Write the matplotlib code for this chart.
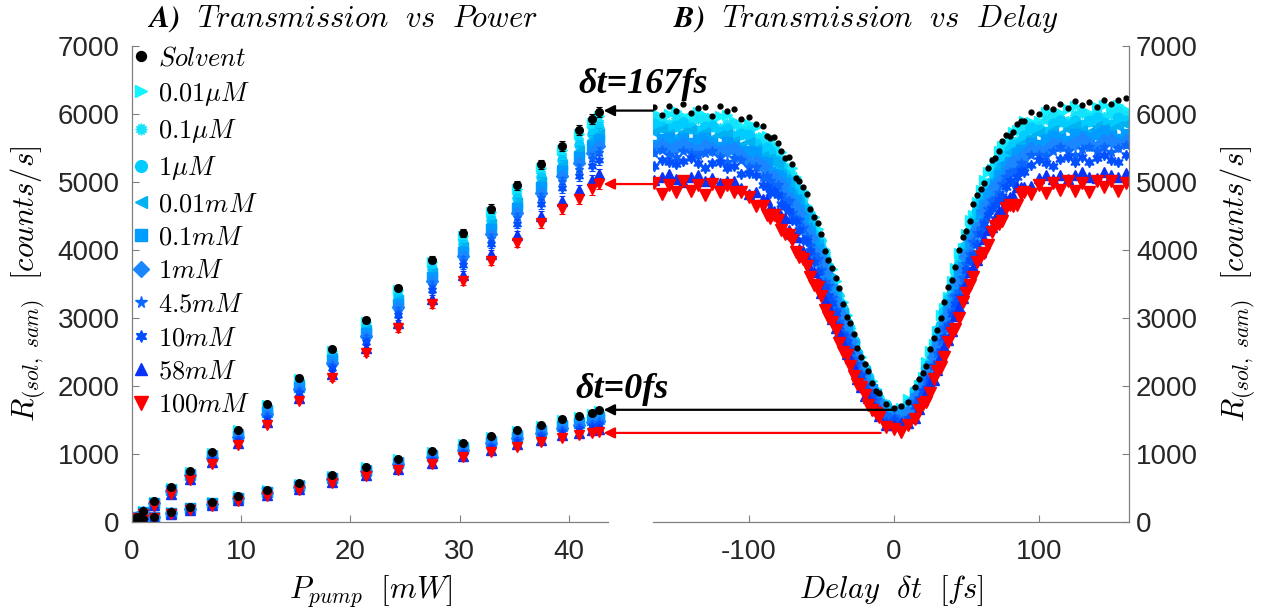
import matplotlib
matplotlib.use('Agg')
import matplotlib.pyplot as plt

# ---- Panel A: transmission vs pump power (two delays) ----
power_mw = [0.2, 0.5, 1.0, 2.0, 3.6, 5.3, 7.3, 9.7, 12.4, 15.3, 18.3, 21.4,
            24.4, 27.5, 30.3, 32.9, 35.3, 37.5, 39.4, 40.9, 42.1, 42.8]

# delay = 167 fs (upper branch)
hi_solvent = [30, 75, 160, 305, 510, 750, 1030, 1360, 1740, 2120, 2540, 2970, 3440, 3860, 4250, 4610, 4950, 5260, 5530, 5760, 5930, 6030]
hi_0p01uM = [30, 74, 158, 301, 504, 742, 1020, 1347, 1721, 2100, 2515, 2941, 3405, 3820, 4207, 4564, 4900, 5208, 5474, 5700, 5868, 5967]
hi_0p1uM = [29, 73, 154, 296, 495, 731, 1006, 1328, 1697, 2072, 2481, 2903, 3357, 3768, 4151, 4502, 4832, 5138, 5400, 5619, 5784, 5882]
hi_1uM = [28, 71, 151, 291, 487, 720, 993, 1310, 1672, 2045, 2448, 2864, 3310, 3715, 4094, 4441, 4765, 5069, 5325, 5539, 5701, 5798]
hi_0p01mM = [28, 70, 148, 285, 478, 709, 979, 1292, 1647, 2018, 2414, 2826, 3263, 3662, 4037, 4379, 4698, 4999, 5251, 5458, 5618, 5713]
hi_0p1mM = [27, 68, 144, 280, 469, 697, 964, 1272, 1619, 1987, 2376, 2783, 3210, 3603, 3973, 4310, 4622, 4921, 5167, 5368, 5524, 5619]
hi_1mM = [26, 67, 141, 274, 460, 685, 948, 1252, 1591, 1957, 2338, 2740, 3157, 3543, 3909, 4240, 4547, 4842, 5084, 5278, 5431, 5524]
hi_4p5mM = [26, 65, 138, 269, 451, 674, 935, 1234, 1566, 1930, 2305, 2701, 3110, 3490, 3852, 4179, 4480, 4773, 5009, 5197, 5348, 5439]
hi_10mM = [25, 64, 133, 261, 440, 660, 916, 1209, 1532, 1892, 2259, 2648, 3045, 3418, 3774, 4094, 4387, 4677, 4907, 5087, 5233, 5323]
hi_58mM = [23, 60, 125, 248, 419, 633, 882, 1164, 1470, 1824, 2175, 2552, 2927, 3286, 3632, 3940, 4219, 4503, 4721, 4886, 5025, 5112]
hi_100mM = [22, 58, 120, 240, 405, 615, 860, 1135, 1430, 1780, 2120, 2490, 2850, 3200, 3540, 3840, 4110, 4390, 4600, 4755, 4890, 4975]
hi_err = [5, 5, 8, 10, 15, 18, 20, 25, 30, 35, 40, 45, 50, 55, 60, 60, 65, 70, 70, 75, 75, 80]

# delay = 0 fs (lower branch)
lo_solvent = [10, 20, 40, 75, 145, 215, 295, 380, 475, 570, 690, 810, 930, 1040, 1160, 1270, 1350, 1430, 1510, 1560, 1610, 1645]
lo_0p01uM = [10, 20, 39, 74, 143, 213, 292, 376, 470, 564, 683, 802, 920, 1029, 1147, 1256, 1336, 1415, 1494, 1543, 1592, 1626]
lo_0p1uM = [9, 19, 39, 73, 141, 209, 287, 370, 462, 556, 673, 790, 906, 1013, 1131, 1236, 1316, 1395, 1472, 1521, 1568, 1600]
lo_1uM = [9, 19, 38, 72, 138, 206, 283, 365, 455, 548, 664, 779, 893, 998, 1114, 1217, 1297, 1375, 1451, 1498, 1544, 1575]
lo_0p01mM = [9, 19, 37, 71, 136, 203, 279, 359, 448, 540, 654, 768, 879, 983, 1097, 1198, 1278, 1355, 1429, 1476, 1520, 1549]
lo_0p1mM = [8, 18, 36, 69, 133, 199, 274, 353, 440, 531, 643, 755, 864, 966, 1078, 1176, 1256, 1333, 1405, 1451, 1493, 1520]
lo_1mM = [8, 18, 35, 68, 131, 196, 269, 346, 432, 522, 632, 743, 848, 949, 1059, 1155, 1235, 1310, 1380, 1426, 1466, 1491]
lo_4p5mM = [7, 17, 34, 67, 128, 193, 264, 341, 425, 514, 623, 732, 835, 934, 1042, 1136, 1216, 1290, 1359, 1403, 1442, 1466]
lo_10mM = [7, 17, 33, 65, 125, 188, 258, 333, 415, 503, 610, 716, 816, 913, 1019, 1109, 1189, 1263, 1329, 1372, 1409, 1431]
lo_58mM = [6, 16, 31, 62, 119, 180, 247, 319, 397, 483, 586, 688, 782, 875, 977, 1061, 1141, 1213, 1275, 1316, 1349, 1367]
lo_100mM = [5, 15, 30, 60, 115, 175, 240, 310, 385, 470, 570, 670, 760, 850, 950, 1030, 1110, 1180, 1240, 1280, 1310, 1325]
lo_err = [3, 3, 4, 5, 8, 10, 12, 14, 16, 18, 20, 22, 24, 26, 28, 30, 30, 32, 34, 35, 36, 38]

# ---- Panel B: transmission vs delay (coarse scan over the full range) ----
delay_fs = [-165, -160, -155, -150, -145, -140, -135, -130, -125, -120, -115, -110,
            -105, -100, -95, -90, -85, -80, -75, -70, -65, -60, -55, -50, -45, -40,
            -35, -30, -25, -20, -15, -10, -5, 0, 5, 10, 15, 20, 25, 30, 35, 40, 45,
            50, 55, 60, 65, 70, 75, 80, 85, 90, 95, 100, 105, 110, 115, 120, 125,
            130, 135, 140, 145, 150, 155, 160]
dl_solvent = [6100, 5990, 6120, 6040, 6140, 6020, 6090, 6110, 5970, 6120, 6040, 6070, 5920, 5950, 5860, 5820, 5640, 5580, 5360, 5260, 5020, 4820, 4480, 4240, 3860, 3590, 3200, 2930, 2560, 2320, 2050, 1890, 1730, 1670, 1700, 1770, 1990, 2190, 2540, 2820, 3240, 3560, 4000, 4280, 4680, 4900, 5210, 5350, 5610, 5680, 5850, 5900, 6030, 6000, 6100, 6070, 6150, 6090, 6190, 6130, 6180, 6110, 6210, 6140, 6210, 6240]
dl_0p01uM = [6020, 5950, 6000, 6040, 5970, 5940, 6030, 5970, 5940, 5970, 5990, 5900, 5820, 5850, 5810, 5660, 5620, 5430, 5340, 5200, 4920, 4650, 4480, 4150, 3800, 3540, 3240, 2850, 2500, 2290, 2080, 1820, 1750, 1620, 1680, 1810, 1910, 2130, 2510, 2810, 3140, 3550, 3960, 4240, 4510, 4880, 5150, 5290, 5530, 5600, 5760, 5890, 5880, 5900, 6030, 6010, 6010, 6070, 6120, 6060, 6020, 6100, 6130, 6060, 6130, 6060]
dl_0p1uM = [5950, 5880, 5850, 5940, 5900, 5870, 5920, 5940, 5860, 5800, 5860, 5860, 5750, 5770, 5640, 5610, 5550, 5360, 5180, 5100, 4850, 4590, 4380, 4130, 3760, 3390, 3150, 2850, 2480, 2270, 1960, 1830, 1740, 1610, 1590, 1770, 1900, 2110, 2440, 2820, 3100, 3410, 3850, 4210, 4460, 4800, 4980, 5250, 5460, 5530, 5610, 5790, 5820, 5830, 5920, 5980, 5930, 5890, 5980, 6010, 5950, 6010, 5950, 6000, 6050, 5980]
dl_1uM = [5850, 5810, 5780, 5830, 5870, 5800, 5750, 5810, 5820, 5740, 5780, 5680, 5700, 5690, 5560, 5460, 5450, 5290, 5110, 4990, 4830, 4530, 4220, 4020, 3740, 3360, 3100, 2720, 2480, 2250, 1950, 1740, 1710, 1610, 1580, 1720, 1930, 2090, 2320, 2720, 3090, 3370, 3780, 4060, 4420, 4740, 4920, 5100, 5360, 5470, 5550, 5680, 5790, 5760, 5740, 5850, 5890, 5830, 5900, 5840, 5900, 5940, 5870, 5840, 5940, 5900]
dl_0p01mM = [5740, 5780, 5710, 5660, 5740, 5760, 5690, 5730, 5650, 5690, 5710, 5610, 5550, 5590, 5490, 5380, 5340, 5260, 5040, 4820, 4700, 4490, 4180, 3960, 3590, 3340, 3070, 2690, 2380, 2200, 1940, 1730, 1660, 1640, 1580, 1610, 1850, 2100, 2300, 2680, 2950, 3340, 3730, 4000, 4280, 4650, 4850, 5040, 5260, 5440, 5480, 5510, 5660, 5720, 5680, 5760, 5710, 5780, 5820, 5760, 5740, 5830, 5800, 5770, 5820, 5860]
dl_0p1mM = [5550, 5630, 5650, 5580, 5640, 5570, 5620, 5650, 5570, 5520, 5590, 5530, 5460, 5460, 5440, 5300, 5150, 5110, 4990, 4750, 4610, 4320, 4130, 3890, 3530, 3210, 2990, 2650, 2350, 2140, 1960, 1720, 1550, 1570, 1600, 1610, 1830, 1970, 2290, 2640, 2900, 3210, 3640, 3930, 4210, 4530, 4820, 4960, 5080, 5300, 5430, 5440, 5570, 5540, 5620, 5680, 5630, 5610, 5700, 5680, 5650, 5700, 5750, 5680, 5630, 5710]
dl_1mM = [5480, 5540, 5470, 5520, 5560, 5490, 5460, 5530, 5480, 5440, 5470, 5480, 5380, 5280, 5300, 5240, 5080, 5020, 4810, 4690, 4540, 4250, 3980, 3800, 3480, 3160, 2910, 2660, 2320, 2020, 1890, 1740, 1550, 1550, 1490, 1620, 1810, 1950, 2180, 2570, 2850, 3150, 3530, 3910, 4140, 4360, 4680, 4920, 5010, 5210, 5250, 5390, 5490, 5460, 5460, 5560, 5540, 5520, 5580, 5630, 5560, 5510, 5600, 5620, 5550, 5610]
dl_4p5mM = [5430, 5470, 5400, 5370, 5460, 5420, 5390, 5420, 5450, 5370, 5300, 5350, 5330, 5220, 5220, 5070, 5020, 4950, 4740, 4540, 4440, 4190, 3920, 3710, 3470, 3120, 2780, 2570, 2330, 2010, 1860, 1630, 1570, 1550, 1480, 1530, 1760, 1930, 2150, 2490, 2850, 3100, 3380, 3790, 4120, 4310, 4610, 4750, 4970, 5150, 5180, 5240, 5390, 5390, 5380, 5450, 5510, 5450, 5400, 5490, 5520, 5450, 5510, 5440, 5500, 5540]
dl_10mM = [5240, 5330, 5290, 5260, 5310, 5350, 5280, 5210, 5280, 5290, 5200, 5230, 5120, 5130, 5110, 4960, 4840, 4810, 4630, 4440, 4300, 4130, 3830, 3520, 3330, 3080, 2730, 2510, 2190, 2000, 1840, 1610, 1470, 1500, 1460, 1510, 1700, 1930, 2110, 2340, 2720, 3060, 3310, 3700, 3930, 4230, 4510, 4660, 4790, 5020, 5080, 5140, 5250, 5320, 5280, 5240, 5340, 5370, 5300, 5370, 5300, 5360, 5400, 5330, 5300, 5390]
dl_58mM = [5030, 5080, 5120, 5050, 5000, 5080, 5100, 5010, 5060, 4980, 5010, 5020, 4910, 4830, 4860, 4750, 4620, 4560, 4470, 4240, 4010, 3890, 3680, 3370, 3170, 2850, 2630, 2410, 2100, 1850, 1750, 1560, 1430, 1420, 1460, 1450, 1530, 1800, 2040, 2240, 2580, 2810, 3160, 3520, 3750, 3970, 4290, 4470, 4590, 4780, 4920, 4930, 4940, 5060, 5100, 5040, 5110, 5050, 5100, 5150, 5080, 5060, 5150, 5110, 5080, 5130]
dl_100mM = [4980, 4830, 4950, 4850, 5010, 4870, 4950, 4810, 4970, 4850, 4950, 4860, 4860, 4780, 4650, 4640, 4470, 4440, 4240, 4150, 3900, 3760, 3480, 3320, 3010, 2820, 2500, 2300, 2030, 1870, 1640, 1540, 1390, 1370, 1330, 1430, 1520, 1740, 1900, 2220, 2430, 2780, 3000, 3370, 3600, 3910, 4070, 4350, 4430, 4660, 4660, 4850, 4820, 4950, 4840, 4980, 4880, 5010, 4870, 4980, 4850, 5020, 4930, 5010, 4870, 4980]

# extra points on the steep flanks of the dip
delay_fine = [-87.5, -82.5, -77.5, -72.5, -67.5, -62.5, -57.5, -52.5, -47.5, -42.5, -37.5,
              -32.5, -27.5, -22.5, -17.5, -12.5, 17.5, 22.5, 27.5, 32.5, 37.5, 42.5,
              47.5, 52.5, 57.5, 62.5, 67.5, 72.5, 77.5, 82.5, 87.5]
df_solvent = [5680, 5660, 5450, 5370, 5060, 4920, 4610, 4400, 3990, 3740, 3440, 3020, 2770, 2420, 2220, 1930, 2110, 2300, 2710, 3000, 3460, 3750, 4190, 4430, 4810, 4990, 5320, 5460, 5690, 5730, 5900]
df_0p01uM = [5680, 5520, 5440, 5200, 5070, 4870, 4550, 4310, 3940, 3720, 3340, 3050, 2670, 2430, 2130, 1960, 2020, 2360, 2620, 3040, 3310, 3740, 4030, 4440, 4710, 5030, 5190, 5460, 5550, 5730, 5760]
df_0p1uM = [5530, 5490, 5260, 5180, 4950, 4760, 4530, 4190, 3970, 3590, 3320, 2920, 2680, 2330, 2130, 1870, 2050, 2250, 2620, 2890, 3310, 3620, 4050, 4330, 4670, 4850, 5150, 5290, 5520, 5590, 5760]
df_1uM = [5500, 5320, 5240, 5010, 4900, 4640, 4460, 4100, 3870, 3580, 3190, 2930, 2650, 2300, 2130, 1850, 1950, 2260, 2500, 2890, 3270, 3550, 3940, 4220, 4580, 4840, 5000, 5280, 5390, 5550, 5590]
df_0p01mM = [5340, 5310, 5120, 5010, 4750, 4600, 4310, 4090, 3820, 3430, 3190, 2840, 2620, 2270, 2040, 1880, 1970, 2150, 2510, 2790, 3200, 3460, 3880, 4200, 4440, 4770, 4940, 5210, 5270, 5460, 5560]
df_0p1mM = [5280, 5120, 5060, 4850, 4740, 4450, 4250, 4020, 3660, 3430, 3090, 2860, 2490, 2280, 1970, 1820, 1860, 2160, 2470, 2720, 3100, 3480, 3750, 4120, 4340, 4660, 4840, 5100, 5220, 5290, 5470]
df_1mM = [5110, 5070, 4960, 4740, 4610, 4340, 4180, 3880, 3670, 3300, 3080, 2730, 2480, 2160, 2000, 1800, 1880, 2060, 2420, 2650, 3040, 3330, 3720, 3960, 4310, 4580, 4730, 4980, 5090, 5290, 5320]
df_4p5mM = [5090, 4930, 4810, 4720, 4460, 4330, 4060, 3870, 3530, 3300, 2940, 2740, 2390, 2180, 1920, 1790, 1790, 2090, 2300, 2660, 2910, 3330, 3590, 3940, 4250, 4430, 4720, 4840, 5070, 5130, 5280]
df_10mM = [4920, 4870, 4670, 4580, 4420, 4150, 3990, 3670, 3460, 3220, 2880, 2640, 2310, 2140, 1910, 1680, 1810, 1970, 2290, 2510, 2880, 3210, 3460, 3860, 4080, 4380, 4610, 4730, 4930, 4990, 5160]
df_58mM = [4740, 4570, 4500, 4290, 4190, 3990, 3730, 3560, 3250, 2980, 2790, 2470, 2280, 1980, 1820, 1640, 1660, 1910, 2090, 2450, 2680, 3030, 3290, 3670, 3860, 4160, 4340, 4580, 4740, 4790, 4930]
df_100mM = [4520, 4510, 4290, 4220, 3970, 3870, 3610, 3450, 3120, 2940, 2630, 2450, 2150, 1980, 1720, 1600, 1650, 1770, 2100, 2280, 2640, 2840, 3230, 3480, 3820, 3960, 4270, 4380, 4620, 4640, 4820]

labels = [r'$Solvent$', r'$0.01\mu M$', r'$0.1\mu M$', r'$1\mu M$', r'$0.01mM$', r'$0.1mM$',
          r'$1mM$', r'$4.5mM$', r'$10mM$', r'$58mM$', r'$100mM$']
markers = ['o', '>', (12, 1, 0), 'o', '<', 's', 'D', '*', (6, 1, 0), '^', 'v']
colors = ['#000000', '#12F2FF', '#14E2FA', '#00CCFF', '#00B2F2', '#009CFF',
          '#1A86FF', '#0A68FF', '#0050FF', '#0832F5', '#FF0000']
hi_sets = [hi_solvent, hi_0p01uM, hi_0p1uM, hi_1uM, hi_0p01mM, hi_0p1mM, hi_1mM,
           hi_4p5mM, hi_10mM, hi_58mM, hi_100mM]
lo_sets = [lo_solvent, lo_0p01uM, lo_0p1uM, lo_1uM, lo_0p01mM, lo_0p1mM, lo_1mM,
           lo_4p5mM, lo_10mM, lo_58mM, lo_100mM]
dl_sets = [dl_solvent, dl_0p01uM, dl_0p1uM, dl_1uM, dl_0p01mM, dl_0p1mM, dl_1mM,
           dl_4p5mM, dl_10mM, dl_58mM, dl_100mM]
df_sets = [df_solvent, df_0p01uM, df_0p1uM, df_1uM, df_0p01mM, df_0p1mM, df_1mM,
           df_4p5mM, df_10mM, df_58mM, df_100mM]

plt.rcParams['font.family'] = ['Liberation Sans', 'DejaVu Sans']
plt.rcParams['mathtext.fontset'] = 'cm'
plt.rcParams['axes.unicode_minus'] = False

axis_gray = '#808080'
tick_dark = '#262626'

fig = plt.figure(figsize=(12.65, 6.15), dpi=100)
ax1 = fig.add_axes([132 / 1265, 1 - 522 / 615, 476 / 1265, 476 / 615])
ax2 = fig.add_axes([653 / 1265, 1 - 522 / 615, 476 / 1265, 476 / 615])

# draw solvent last so the black points sit on top
order = list(range(1, 11)) + [0]
handles = [None] * 11
for i in order:
    ms_a = 5.5 if i == 0 else (7.5 if i == 10 else 6.5)
    ms_b = 3.5 if i == 0 else (8.0 if i == 10 else 7.5)
    for vals, err in ((hi_sets[i], hi_err), (lo_sets[i], lo_err)):
        ax1.errorbar(power_mw, vals, yerr=err, fmt='none', ecolor=colors[i],
                     elinewidth=0.8, capsize=2, capthick=0.8)
    h, = ax1.plot(power_mw, hi_sets[i], linestyle='none', marker=markers[i],
                  color=colors[i], ms=ms_a)
    ax1.plot(power_mw, lo_sets[i], linestyle='none', marker=markers[i],
             color=colors[i], ms=ms_a)
    handles[i] = h
    ax2.plot(delay_fs + delay_fine, dl_sets[i] + df_sets[i], linestyle='none',
             marker=markers[i], color=colors[i], ms=ms_b)

for ax in (ax1, ax2):
    ax.set_ylim(0, 7000)
    ax.set_yticks(range(0, 7001, 1000))
    ax.spines['top'].set_visible(False)
    for s in ax.spines.values():
        s.set_color(axis_gray)
        s.set_linewidth(0.9)
    ax.tick_params(direction='in', length=5, width=0.8, color=axis_gray,
                   labelsize=20, labelcolor=tick_dark)
    ax.tick_params(axis='x', pad=12)

ax1.spines['right'].set_visible(False)
ax1.set_xlim(0, 43.6)
ax1.set_xticks([0, 10, 20, 30, 40])
ax1.tick_params(axis='y', pad=9)

ax2.spines['left'].set_visible(False)
ax2.yaxis.tick_right()
ax2.yaxis.set_label_position('right')
ax2.set_xlim(-166, 162.3)
ax2.set_xticks([-100, 0, 100])
ax2.tick_params(axis='y', pad=5)

ylab = r'$R_{(sol,\ sam)}\ \ [counts/s]$'
ax1.set_ylabel(ylab, fontsize=22)
ax1.yaxis.set_label_coords(-0.179, 0.5)
ax2.set_ylabel(ylab, fontsize=22)
ax2.yaxis.set_label_coords(1.187, 0.5)

ax1.set_xlabel(r'$P_{pump}\ \ [mW]$', fontsize=22)
ax1.xaxis.set_label_coords(0.5, -0.107)
ax2.set_xlabel(r'$Delay\ \ \delta t\ \ [fs]$', fontsize=22)
ax2.xaxis.set_label_coords(0.5, -0.107)

fig.text(343 / 1265, 1 - 27 / 615, r'$\mathbfit{A)}\ \ Transmission\ \ vs\ \ Power$',
         fontsize=22, va='baseline', ha='center')
fig.text(866 / 1265, 1 - 27 / 615, r'$\mathbfit{B)}\ \ Transmission\ \ vs\ \ Delay$',
         fontsize=22, va='baseline', ha='center')

ax1.legend(handles, labels, loc='upper left', bbox_to_anchor=(0.0, 1.0),
           frameon=False, fontsize=19, borderaxespad=0.0, borderpad=0.0,
           handlelength=0.7, handletextpad=0.3, labelspacing=0.36,
           markerscale=1.3)

# arrows linking the delay scan to the power scan
arrow_kw = dict(arrowstyle='-|>', lw=1.6, mutation_scale=16, shrinkA=0, shrinkB=0,
                clip_on=False)
for y_val, t_start, col in ((6050, -166, 'k'), (4970, -166, 'r'),
                            (1650, 0, 'k'), (1310, -9, 'r')):
    ax2.annotate('', xy=(43.2, y_val), xycoords=ax1.transData,
                 xytext=(t_start, y_val), textcoords='data',
                 arrowprops=dict(color=col, **arrow_kw), annotation_clip=False)

note_kw = dict(fontfamily='Liberation Serif', fontweight='bold', fontstyle='italic',
               fontsize=26, va='baseline')
fig.text(578 / 1265, 1 - 93 / 615, 'δt=167fs', **note_kw)
fig.text(575 / 1265, 1 - 398 / 615, 'δt=0fs', **note_kw)

fig.savefig('out.png', dpi=100)
